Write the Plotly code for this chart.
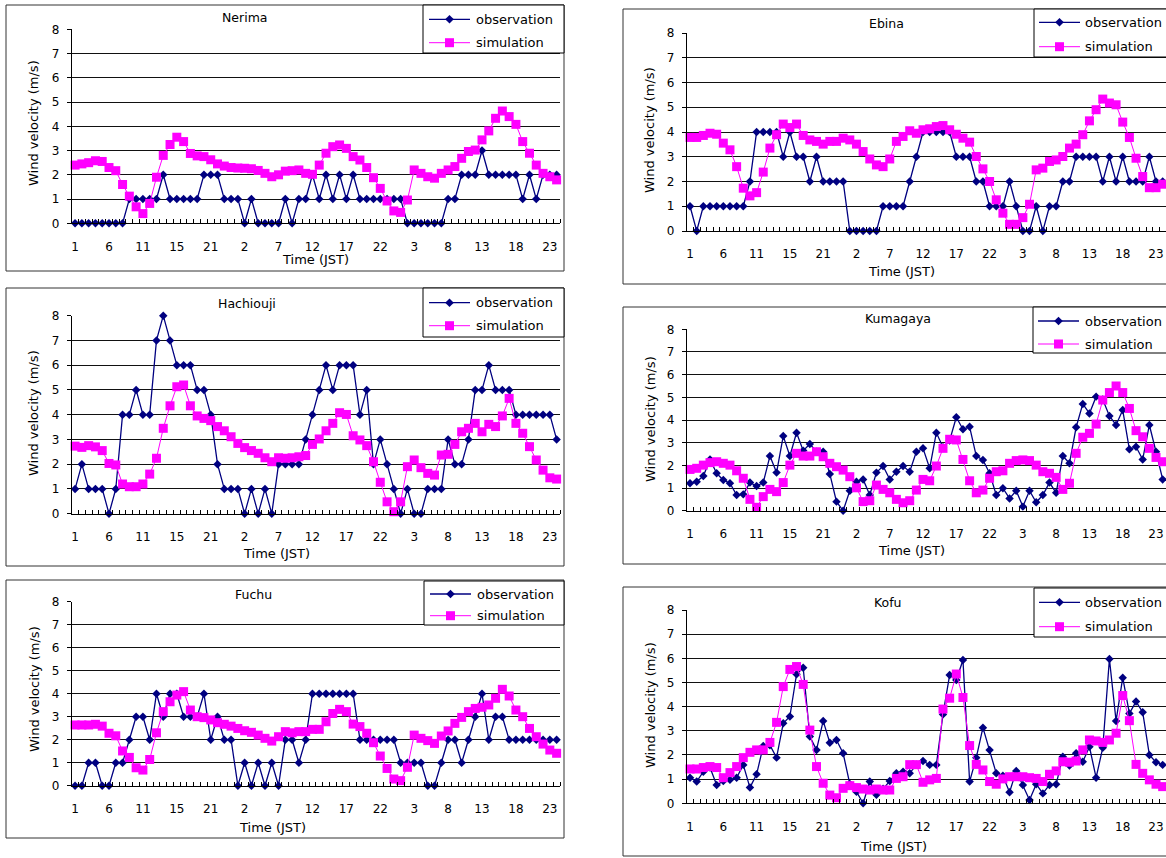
import plotly.graph_objects as go

W, H = 1166, 858

hours = list(range(1, 25)) * 3
tick_idx = list(range(0, 72, 5))
tick_text = ["1", "6", "11", "15", "21", "2", "7", "12", "17", "22", "3", "8", "13", "18", "23"]

stations = ["Nerima", "Hachiouji", "Fuchu", "Ebina", "Kumagaya", "Kofu"]
series_names = ["observation", "simulation"]

nerima_obs = [0, 0, 0, 0, 0, 0, 0, 0, 1, 1, 1, 1, 1, 2, 1, 1, 1, 1, 1, 2, 2, 2, 1, 1, 1, 0, 1, 0, 0, 0, 0, 1, 0,
              1, 1, 2, 1, 2, 1, 2, 1, 2, 1, 1, 1, 1, 1, 1, 1, 0, 0, 0, 0, 0, 0, 1, 1, 2, 2, 2, 3, 2, 2, 2, 2, 2, 1, 2, 1, 2, 2, 2]
nerima_sim = [2.4, 2.45, 2.5, 2.58, 2.55, 2.3, 2.17, 1.6, 1.12, 0.68, 0.4, 0.82, 1.9, 2.8, 3.25, 3.55, 3.37, 2.88,
              2.78, 2.75, 2.62, 2.45, 2.36, 2.3, 2.28, 2.27, 2.25, 2.18, 2.06, 1.92, 2.0, 2.15, 2.17,
              2.2, 2.06, 2.02, 2.4, 2.89, 3.16, 3.23, 3.09, 2.75, 2.61, 2.3, 1.88, 1.44, 0.92, 0.51, 0.45, 0.96,
              2.2, 2.06, 1.92, 1.86, 2.06, 2.2, 2.34, 2.68, 2.96, 3.02, 3.44, 3.81, 4.33, 4.63, 4.4, 4.08, 3.37,
              2.89, 2.4, 2.06, 1.92, 1.79]

hachiouji_obs = [1, 2, 1, 1, 1, 0, 1, 4, 4, 5, 4, 4, 7, 8, 7, 6, 6, 6, 5, 5, 4, 2, 1, 1, 1, 0, 1, 0, 1, 0, 2, 2, 2,
                 2, 3, 4, 5, 6, 5, 6, 6, 6, 4, 5, 2, 3, 2, 1, 0, 1, 0, 0, 1, 1, 1, 3, 2, 2, 3, 5, 5, 6, 5, 5, 5, 4, 4, 4, 4, 4, 4, 3]
hachiouji_sim = [2.73, 2.68, 2.75, 2.7, 2.55, 2.03, 1.97, 1.2, 1.09, 1.09, 1.2, 1.6, 2.24, 3.45, 4.36, 5.13, 5.2,
                 4.36, 3.95, 3.85, 3.76, 3.52, 3.35, 3.11, 2.84, 2.67, 2.55, 2.44, 2.26, 2.1, 2.26, 2.24, 2.26,
                 2.3, 2.35, 2.8, 3.02, 3.35, 3.65, 4.08, 4.01, 3.15, 2.98, 2.75, 2.1, 1.27, 0.48, 0.08, 0.48, 1.9,
                 2.17, 1.86, 1.63, 1.56, 2.37, 2.4, 2.8, 3.31, 3.45, 3.65, 3.31, 3.61, 3.52, 3.95, 4.66, 3.65, 3.25,
                 2.71, 2.17, 1.76, 1.45, 1.4]

fuchu_obs = [0, 0, 1, 1, 0, 0, 1, 1, 2, 3, 3, 2, 4, 3, 4, 4, 3, 3, 3, 4, 2, 3, 2, 2, 0, 1, 0, 1, 0, 1, 0, 2, 2,
             1, 2, 4, 4, 4, 4, 4, 4, 4, 2, 2, 2, 2, 2, 2, 1, 1, 1, 1, 0, 0, 1, 2, 2, 1, 2, 3, 4, 2, 3, 3, 2, 2, 2, 2, 2, 2, 2, 2]
fuchu_sim = [2.64, 2.64, 2.64, 2.67, 2.59, 2.28, 2.17, 1.51, 1.23, 0.78, 0.68, 1.14, 2.3, 3.22, 3.65, 3.94, 4.09,
             3.29, 3.0, 2.96, 2.86, 2.74, 2.67, 2.59, 2.49, 2.39, 2.32, 2.2, 2.06, 1.94, 2.13, 2.35, 2.3,
             2.35, 2.35, 2.45, 2.45, 2.78, 3.14, 3.32, 3.22, 2.68, 2.57, 2.28, 1.87, 1.29, 0.75, 0.29, 0.22, 0.8,
             2.2, 2.06, 1.96, 1.84, 2.16, 2.38, 2.71, 2.97, 3.22, 3.36, 3.41, 3.51, 3.8, 4.19, 3.9, 3.29, 3.0,
             2.49, 2.13, 1.81, 1.55, 1.41]

ebina_obs = [1, 0, 1, 1, 1, 1, 1, 1, 1, 2, 4, 4, 4, 4, 3, 4, 3, 3, 2, 3, 2, 2, 2, 2, 0, 0, 0, 0, 0, 1, 1, 1,
             1, 2, 3, 4, 4, 4, 4, 4, 3, 3, 3, 2, 2, 1, 1, 1, 2, 1, 0, 0, 1, 0, 1, 1, 2, 2, 3, 3, 3, 3, 2, 3, 2, 3, 2, 2, 2, 3, 2, 2]
ebina_sim = [3.78, 3.78, 3.86, 3.95, 3.91, 3.55, 3.28, 2.6, 1.73, 1.42, 1.55, 2.38, 3.35, 3.89, 4.32, 4.18, 4.32,
             3.86, 3.68, 3.62, 3.51, 3.62, 3.62, 3.75, 3.68, 3.51, 3.21, 2.91, 2.67, 2.6, 2.91, 3.62,
             3.82, 4.05, 3.95, 4.09, 4.13, 4.22, 4.26, 4.09, 3.91, 3.75, 3.59, 3.01, 2.51, 2.0, 1.26, 0.72, 0.27,
             0.27, 0.54, 1.08, 2.47, 2.54, 2.81, 2.87, 3.01, 3.35, 3.51, 3.89, 4.45, 4.9, 5.33, 5.17, 5.1, 4.4,
             3.78, 2.94, 2.2, 1.75, 1.75, 1.89]

kumagaya_obs = [1.21, 1.28, 1.53, 2.26, 1.65, 1.35, 1.21, 0.69, 0.72, 1.24, 1.09, 1.24, 2.41, 1.68, 3.29, 2.41,
                3.44, 2.65, 2.94, 2.6, 2.6, 1.62, 0.4, 0.0, 0.88, 1.28, 1.38, 0.69, 1.68, 1.97, 1.38, 1.72,
                1.97, 1.72, 2.6, 2.75, 1.87, 3.44, 2.8, 3.1, 4.12, 3.59, 3.7, 2.41, 2.24, 1.65, 0.69, 0.99, 0.54,
                0.88, 0.18, 0.88, 0.37, 0.69, 1.24, 0.79, 2.41, 2.09, 3.68, 4.71, 4.29, 5.03, 4.9, 4.18, 3.78, 4.44,
                2.71, 2.82, 2.26, 3.78, 2.6, 1.38]
kumagaya_sim = [1.82, 1.87, 2.01, 2.12, 2.16, 2.09, 2.01, 1.76, 1.43, 0.5, 0.15, 0.62, 0.94, 0.84, 1.24, 2.01,
                2.53, 2.41, 2.41, 2.6, 2.38, 2.09, 1.94, 1.79, 1.5, 1.01, 0.4, 0.44, 1.13, 0.94, 0.79, 0.5,
                0.35, 0.44, 0.91, 1.38, 1.32, 1.97, 2.75, 3.15, 3.12, 2.26, 1.32, 0.79, 0.91, 1.43, 1.72, 1.76, 2.09,
                2.21, 2.24, 2.21, 2.01, 1.72, 1.65, 1.47, 0.94, 1.21, 2.53, 3.24, 3.41, 3.82, 4.88, 5.21, 5.5, 5.21,
                4.51, 3.53, 3.26, 2.75, 2.35, 2.16]

kofu_obs = [1.06, 0.9, 1.31, 1.48, 0.76, 0.92, 0.97, 1.06, 1.59, 0.65, 1.2, 2.37, 2.4, 1.89, 3.31, 3.59, 5.34,
            5.61, 2.76, 2.21, 3.41, 2.51, 2.62, 2.07, 0.8, 0.48, 0.0, 0.9, 0.35, 0.6, 0.92, 1.24,
            1.31, 1.24, 1.6, 1.75, 1.59, 1.59, 3.68, 5.31, 5.1, 5.93, 0.9, 1.89, 3.13, 2.21, 1.24, 1.14, 0.46,
            1.34, 0.76, 0.14, 0.79, 0.41, 0.76, 0.79, 1.93, 1.56, 2.07, 1.72, 2.34, 1.06, 2.3, 5.97, 3.41, 5.2,
            3.72, 4.21, 3.77, 2.0, 1.7, 1.59]
kofu_sim = [1.42, 1.42, 1.48, 1.52, 1.48, 1.06, 1.27, 1.52, 1.89, 2.11, 2.21, 2.21, 2.52, 3.35, 4.83, 5.54, 5.66,
            4.92, 3.03, 1.52, 0.83, 0.34, 0.23, 0.62, 0.73, 0.65, 0.59, 0.55, 0.59, 0.55, 0.55, 1.03,
            1.1, 1.6, 1.6, 0.87, 0.97, 1.03, 3.9, 4.35, 5.35, 4.38, 2.39, 1.61, 1.38, 0.9, 0.79, 1.01, 1.1,
            1.1, 1.1, 1.06, 1.03, 0.9, 1.2, 1.34, 1.72, 1.7, 1.75, 2.21, 2.62, 2.58, 2.52, 2.62, 2.9, 4.46,
            3.42, 1.61, 1.24, 0.97, 0.79, 0.69]

obs_series = [nerima_obs, hachiouji_obs, fuchu_obs, ebina_obs, kumagaya_obs, kofu_obs]
sim_series = [nerima_sim, hachiouji_sim, fuchu_sim, ebina_sim, kumagaya_sim, kofu_sim]

# ---- layout geometry (pixels from top-left) ----
geom = [
    dict(px=(71.7, 560), py=(29.3, 223.3), box=(6, 5, 564, 271),
         leg=(423, 5, 564, 53), rows=(19.3, 42.7), lx=(429, 470, 474),
         title=(245, 18), xt=(315, 260), yt=(34, 123)),
    dict(px=(71.7, 560), py=(315.7, 513.7), box=(6, 288, 564, 566),
         leg=(423, 288, 564, 337), rows=(302.7, 325.7), lx=(429, 470, 474),
         title=(247, 303), xt=(276, 553), yt=(34, 413)),
    dict(px=(71.7, 560), py=(601.7, 785.7), box=(6, 580, 564, 838),
         leg=(424, 581, 564, 625), rows=(594, 615.7), lx=(430, 471, 475),
         title=(253, 594), xt=(272, 827), yt=(34, 689)),
    dict(px=(686.7, 1166), py=(33, 231), box=(623, 9, 1180, 284),
         leg=(1034, 9, 1180, 57), rows=(22.3, 46.7), lx=(1039, 1080, 1083),
         title=(886, 23), xt=(901, 272), yt=(650, 130)),
    dict(px=(686.7, 1166), py=(329.3, 510.7), box=(623, 307, 1180, 564),
         leg=(1033, 307, 1180, 353), rows=(321, 344), lx=(1038, 1079, 1083),
         title=(898, 318), xt=(911, 550), yt=(650, 419)),
    dict(px=(686.7, 1166), py=(610, 803.3), box=(623, 587, 1180, 856),
         leg=(1034, 588, 1180, 637), rows=(602.3, 626.7), lx=(1039, 1080, 1083),
         title=(888, 602), xt=(893, 846), yt=(650, 705)),
]

FONT = "DejaVu Sans"
OBS_C = "#000080"
SIM_C = "#FF00FF"


def fx(p):
    return p / W


def fy(p):
    return 1 - p / H


fig = go.Figure()
x = list(range(72))
layout = dict(width=W, height=H, margin=dict(l=0, r=0, t=0, b=0, autoexpand=False),
              paper_bgcolor="white", plot_bgcolor="white", showlegend=False,
              font=dict(family=FONT, size=12, color="black"))
annotations = []
shapes = []

for k, name in enumerate(stations):
    g = geom[k]
    sfx = "" if k == 0 else str(k + 1)
    fig.add_trace(go.Scatter(x=x, y=obs_series[k], mode="lines+markers", name=series_names[0],
                             xaxis="x" + sfx, yaxis="y" + sfx, cliponaxis=False,
                             line=dict(color=OBS_C, width=1.3),
                             marker=dict(symbol="diamond", size=6.5, color=OBS_C),
                             customdata=hours))
    fig.add_trace(go.Scatter(x=x, y=sim_series[k], mode="lines+markers", name=series_names[1],
                             xaxis="x" + sfx, yaxis="y" + sfx, cliponaxis=False,
                             line=dict(color=SIM_C, width=1),
                             marker=dict(symbol="square", size=9, color=SIM_C),
                             customdata=hours))
    xd = [fx(g["px"][0]), fx(g["px"][1])]
    yd = [fy(g["py"][1]), fy(g["py"][0])]
    layout["xaxis" + sfx] = dict(domain=xd, anchor="y" + sfx, range=[-0.5, 71.5], automargin=False,
                                 tickmode="array", tickvals=tick_idx, ticktext=tick_text,
                                 ticks="", showgrid=False, zeroline=False,
                                 showline=True, linecolor="black", linewidth=1,
                                 tickfont=dict(family=FONT, size=12, color="black"),
                                 ticklabelstandoff=12,
                                 minor=dict(tickmode="array",
                                            tickvals=[i - 0.5 for i in range(73)],
                                            ticks="inside", ticklen=4, tickcolor="black",
                                            tickwidth=1, showgrid=False))
    layout["yaxis" + sfx] = dict(domain=yd, anchor="x" + sfx, range=[0, 8], dtick=1, automargin=False,
                                 tick0=0, showgrid=True, gridcolor="#111", gridwidth=1,
                                 zeroline=False, showline=True, linecolor="black", linewidth=1,
                                 ticks="outside", ticklen=4, tickcolor="black",
                                 ticklabelstandoff=5,
                                 tickfont=dict(family=FONT, size=12, color="black"))
    # chart area border
    b = g["box"]
    shapes.append(dict(type="rect", xref="paper", yref="paper",
                       x0=fx(b[0]), x1=fx(b[2]), y0=fy(b[3]), y1=fy(b[1]),
                       line=dict(color="#333", width=1), fillcolor="rgba(0,0,0,0)", layer="below"))
    # legend box
    lb = g["leg"]
    shapes.append(dict(type="rect", xref="paper", yref="paper",
                       x0=fx(lb[0]), x1=fx(lb[2]), y0=fy(lb[3]), y1=fy(lb[1]),
                       line=dict(color="black", width=1), fillcolor="white", layer="above"))
    x0l, x1l, xtx = g["lx"]
    cx = (x0l + x1l) / 2
    for r, (cy, col, nm) in enumerate(zip(g["rows"], [OBS_C, SIM_C], series_names)):
        shapes.append(dict(type="line", xref="paper", yref="paper",
                           x0=fx(x0l), x1=fx(x1l), y0=fy(cy), y1=fy(cy),
                           line=dict(color=col, width=1.3 if r == 0 else 1), layer="above"))
        if r == 0:
            d = 4.3
            path = "M {} {} L {} {} L {} {} L {} {} Z".format(
                fx(cx), fy(cy - d), fx(cx + d), fy(cy), fx(cx), fy(cy + d), fx(cx - d), fy(cy))
        else:
            d = 4.5
            path = "M {} {} L {} {} L {} {} L {} {} Z".format(
                fx(cx - d), fy(cy - d), fx(cx + d), fy(cy - d), fx(cx + d), fy(cy + d), fx(cx - d), fy(cy + d))
        shapes.append(dict(type="path", xref="paper", yref="paper", path=path,
                           fillcolor=col, line=dict(color=col, width=0), layer="above"))
        annotations.append(dict(text=nm, x=fx(xtx), y=fy(cy), xref="paper", yref="paper",
                                showarrow=False, xanchor="left", yanchor="middle",
                                font=dict(family=FONT, size=13, color="black")))
    annotations.append(dict(text=name, x=fx(g["title"][0]), y=fy(g["title"][1]),
                            xref="paper", yref="paper", showarrow=False,
                            xanchor="center", yanchor="middle",
                            font=dict(family=FONT, size=12.5, color="black")))
    annotations.append(dict(text="Time (JST)", x=fx(g["xt"][0]), y=fy(g["xt"][1]),
                            xref="paper", yref="paper", showarrow=False,
                            xanchor="center", yanchor="middle",
                            font=dict(family=FONT, size=13, color="black")))
    annotations.append(dict(text="Wind velocity (m/s)", x=fx(g["yt"][0]), y=fy(g["yt"][1]),
                            xref="paper", yref="paper", showarrow=False, textangle=-90,
                            xanchor="center", yanchor="middle",
                            font=dict(family=FONT, size=13, color="black")))

layout["annotations"] = annotations
layout["shapes"] = shapes
fig.update_layout(**layout)
fig.write_html("out.html", config={"displayModeBar": False},
               post_script="document.body.style.margin='0';document.body.style.padding='0';"
                           "document.body.style.overflow='hidden';")
